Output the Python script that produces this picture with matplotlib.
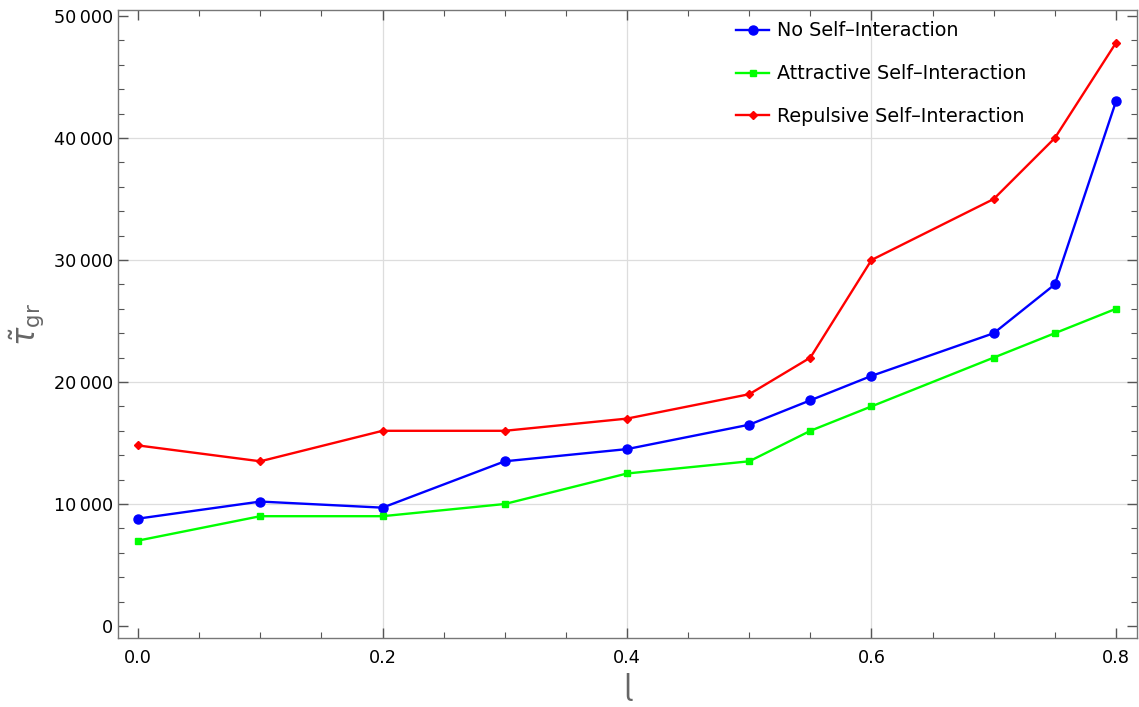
import matplotlib
matplotlib.use("Agg")
import matplotlib.pyplot as plt
from matplotlib.ticker import MultipleLocator, FuncFormatter

x = [0.0, 0.1, 0.2, 0.3, 0.4, 0.5, 0.55, 0.6, 0.7, 0.75, 0.8]
no_si = [8800, 10200, 9700, 13500, 14500, 16500, 18500, 20500, 24000, 28000, 43000]
attractive = [7000, 9000, 9000, 10000, 12500, 13500, 16000, 18000, 22000, 24000, 26000]
repulsive = [14800, 13500, 16000, 16000, 17000, 19000, 22000, 30000, 35000, 40000, 47800]
labels = ["No Self\u2013Interaction", "Attractive Self\u2013Interaction", "Repulsive Self\u2013Interaction"]

fig = plt.figure(figsize=(11.39, 7.07), dpi=100)
ax = fig.add_axes([118/1139, 1-638/707, (1137-118)/1139, (638-10)/707])

ax.plot(x, no_si, color=(0, 0, 1), lw=1.7, marker='o', ms=6.5, label=labels[0])
ax.plot(x, attractive, color=(0, 1, 0), lw=1.7, marker='s', ms=4.5, label=labels[1])
ax.plot(x, repulsive, color=(1, 0, 0), lw=1.7, marker='D', ms=4, label=labels[2])

ax.set_xlim(-0.0164, 0.8172)
ax.set_ylim(-984, 50492)

ax.xaxis.set_major_locator(MultipleLocator(0.2))
ax.xaxis.set_minor_locator(MultipleLocator(0.05))
ax.yaxis.set_major_locator(MultipleLocator(10000))
ax.yaxis.set_minor_locator(MultipleLocator(2000))
ax.yaxis.set_major_formatter(FuncFormatter(lambda v, p: f"{int(v):,}".replace(",", "\u2009")))
ax.xaxis.set_major_formatter(FuncFormatter(lambda v, p: f"{v:.1f}"))

ax.tick_params(which='both', direction='in', top=True, right=True, colors='#555555',
               labelcolor='black', labelsize=12.7)
ax.tick_params(which='major', length=7, width=1)
ax.tick_params(which='minor', length=4, width=0.8)
ax.tick_params(axis='x', pad=8)
for s in ax.spines.values():
    s.set_color('#777777')
    s.set_linewidth(1)

for gx in [0.2, 0.4, 0.6]:
    ax.axvline(gx, color='#dddddd', lw=0.9, zorder=0)
for gy in [10000, 20000, 30000, 40000]:
    ax.axhline(gy, color='#dddddd', lw=0.9, zorder=0)

ax.set_xlabel("\u026d", fontsize=21, color='#666666')
ax.set_ylabel(r"$\tilde{\tau}_{\mathrm{gr}}$", fontsize=22, color='#666666', labelpad=5)

ax.legend(loc='upper left', bbox_to_anchor=(719/1139, 1-4/707), bbox_transform=fig.transFigure,
          frameon=False, fontsize=13.8, handlelength=1.7, labelspacing=1.25, handletextpad=0.45)

fig.savefig("out.png", dpi=100)
